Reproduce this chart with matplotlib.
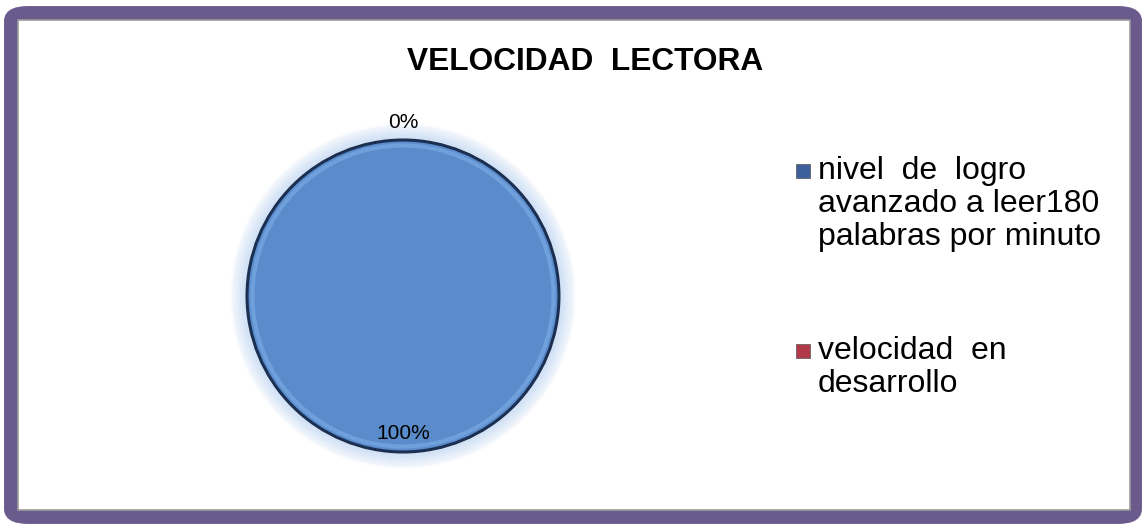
import matplotlib
matplotlib.use("Agg")
import matplotlib.pyplot as plt
from matplotlib.patches import FancyBboxPatch, Circle, Rectangle

# Chart data
title = "VELOCIDAD  LECTORA"
categories = ["nivel  de  logro\navanzado a leer180\npalabras por minuto",
              "velocidad  en\ndesarrollo"]
values = [100, 0]
colors = ["#5a8ccc", "#c0504d"]
legend_marks = ["#3d5f9a", "#b03a48"]

plt.rcParams['font.family'] = ['Liberation Sans', 'DejaVu Sans']

W, H = 1143, 527
fig = plt.figure(figsize=(W / 100, H / 100), dpi=100)
fig.patch.set_facecolor("white")

# outer frame (purple, rounded)
frame = FancyBboxPatch((11 / W, 10 / H), (W - 11 - 8) / W, (H - 10 - 13) / H,
                       boxstyle="round,pad=0,rounding_size=0.015",
                       transform=fig.transFigure, facecolor="white",
                       edgecolor="#6b5a8c", linewidth=10, zorder=-2)
fig.patches.append(frame)
inner = Rectangle((18 / W, 17 / H), (W - 18 - 13) / W, (H - 17 - 20) / H,
                  transform=fig.transFigure, facecolor="white",
                  edgecolor="#9a9a9a", linewidth=1.2, zorder=-1)
fig.patches.append(inner)

fig.text(585 / W, 1 - 62 / H, title, ha="center", va="center",
         fontsize=22.8, fontweight="bold", color="black")

# pie axes
cx, cy, r = 403, 296, 156
lim = 1.3
side = 2 * r * lim
ax = fig.add_axes([(cx - side / 2) / W, (H - cy - side / 2) / H, side / W, side / H])

# soft halo around the pie
for k in range(8):
    ax.add_patch(Circle((0, 0), 1.0 + 0.012 * (k + 1), facecolor="none",
                        edgecolor="#aac8ee", linewidth=2.5, alpha=0.35 - 0.04 * k,
                        zorder=1))

wedges, _ = ax.pie(values, colors=colors, startangle=90, counterclock=False,
                   radius=1.0, wedgeprops=dict(linewidth=0))
for w in wedges:
    w.set_zorder(2)
ax.set_xlim(-lim, lim)
ax.set_ylim(-lim, lim)
ax.set_aspect("equal")
ax.axis("off")

# outline and inner rim highlight
ax.add_patch(Circle((0, 0), 1.0, facecolor="none", edgecolor="#1b2f52",
                    linewidth=2.2, zorder=3))
ax.add_patch(Circle((0, 0), 0.965, facecolor="none", edgecolor="#7eaee6",
                    linewidth=3, alpha=0.6, zorder=3))

total = sum(values)
pct = [v / total * 100 for v in values]
ax.text(0, -0.88, f"{pct[0]:.0f}%", ha="center", va="center", fontsize=15, zorder=4)
ax.text(0, 1.11, f"{pct[1]:.0f}%", ha="center", va="center", fontsize=15, zorder=4)

# legend
legend_y = [172, 352]
for lab, col, y in zip(categories, legend_marks, legend_y):
    fig.patches.append(Rectangle((796 / W, 1 - (y + 6) / H), 14 / W, 14 / H,
                                 transform=fig.transFigure, facecolor=col,
                                 edgecolor="#555555", linewidth=0.5))
    fig.text(818 / W, 1 - (y - 16) / H, lab, ha="left", va="top",
             fontsize=23, linespacing=1.13, color="black")

fig.savefig("out.png", dpi=100)
